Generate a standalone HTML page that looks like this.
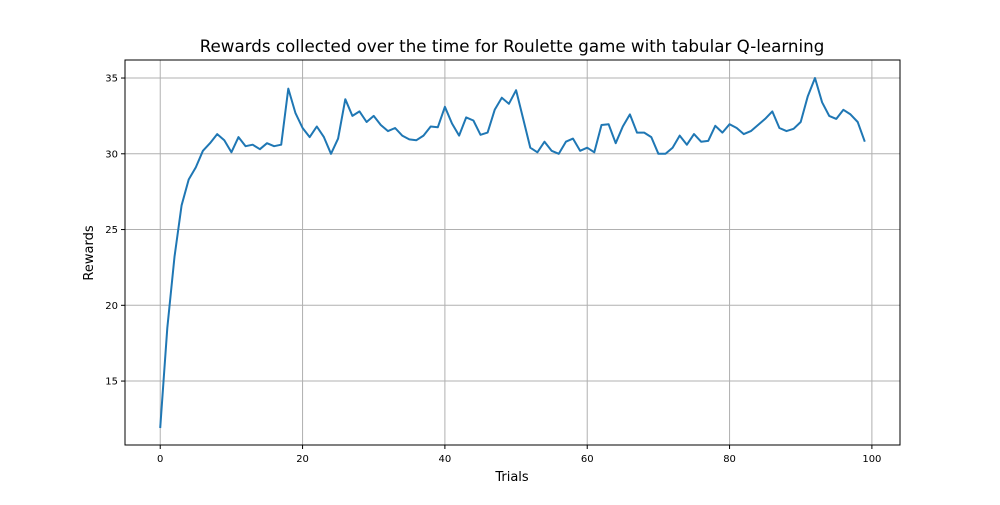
<!DOCTYPE html>
<html><head><meta charset="utf-8"><style>
body{margin:0;background:#fff;font-family:"Liberation Sans","DejaVu Sans",sans-serif}
svg text{font-family:"DejaVu Sans","Liberation Sans",sans-serif}
</style></head><body>
<svg id="chart" width="1000" height="500" xmlns="http://www.w3.org/2000/svg">
<rect width="1000" height="500" fill="#fff"/>
<g id="grid"></g>
<g id="ticks"></g>
<path id="line" fill="none" stroke="#1f77b4" stroke-width="2" stroke-linejoin="round"/>
<rect x="125" y="60" width="775" height="385" fill="none" stroke="#000" stroke-width="1"/>
<text x="512" y="52" text-anchor="middle" font-size="16.7">Rewards collected over the time for Roulette game with tabular Q-learning</text>
<text x="512" y="481" text-anchor="middle" font-size="13">Trials</text>
<text transform="translate(93,253) rotate(-90)" text-anchor="middle" font-size="13">Rewards</text>
</svg>
<script>
const rewards=[11.9,18.5,23.2,26.6,28.3,29.1,30.2,30.7,31.3,30.9,30.1,31.1,30.5,30.6,30.3,30.7,30.5,30.6,34.3,32.7,31.7,31.1,31.8,31.1,30.0,31.0,33.6,32.5,32.8,32.1,32.5,31.9,31.5,31.7,31.2,30.95,30.9,31.2,31.8,31.75,33.1,32.0,31.2,32.4,32.2,31.25,31.4,32.9,33.7,33.3,34.2,32.3,30.4,30.1,30.8,30.2,30.0,30.8,31.0,30.2,30.4,30.1,31.9,31.95,30.7,31.8,32.6,31.4,31.4,31.1,30.0,30.0,30.4,31.2,30.6,31.3,30.8,30.85,31.85,31.4,31.95,31.7,31.3,31.5,31.9,32.3,32.8,31.7,31.5,31.65,32.1,33.8,35.0,33.4,32.5,32.3,32.9,32.6,32.1,30.8];
const xTicks=[0,20,40,60,80,100];
const yTicks=[15,20,25,30,35];
const L=125,R=900,T=60,B=445;
const xMin=-4.95,xMax=103.95,yMin=10.78,yMax=36.19;
const sx=v=>L+(v-xMin)/(xMax-xMin)*(R-L);
const sy=v=>B-(v-yMin)/(yMax-yMin)*(B-T);
const NS="http://www.w3.org/2000/svg";
const grid=document.getElementById('grid'),ticks=document.getElementById('ticks');
function mk(tag,attrs,parent){const e=document.createElementNS(NS,tag);for(const k in attrs)e.setAttribute(k,attrs[k]);parent.appendChild(e);return e;}
xTicks.forEach(v=>{const x=sx(v);
 const g=mk('line',{x1:x,x2:x,y1:T,y2:B,stroke:'#b0b0b0','stroke-width':1},grid);
 
 
 mk('line',{x1:x,x2:x,y1:B,y2:B+4,stroke:'#000'},ticks);
 const t=mk('text',{x:x,y:B+17,'text-anchor':'middle','font-size':10},ticks);t.textContent=v;
 
 
});
yTicks.forEach(v=>{const y=sy(v);
 const g=mk('line',{x1:L,x2:R,y1:y,y2:y,stroke:'#b0b0b0','stroke-width':1},grid);
 
 
 mk('line',{x1:L-4,x2:L,y1:y,y2:y,stroke:'#000'},ticks);
 const t=mk('text',{x:L-7,y:y+3.5,'text-anchor':'end','font-size':10},ticks);t.textContent=v;
 
 
});
document.getElementById('line').setAttribute('d',rewards.map((v,i)=>(i?'L':'M')+sx(i).toFixed(1)+','+sy(v).toFixed(1)).join(''));
</script>
</body></html>
